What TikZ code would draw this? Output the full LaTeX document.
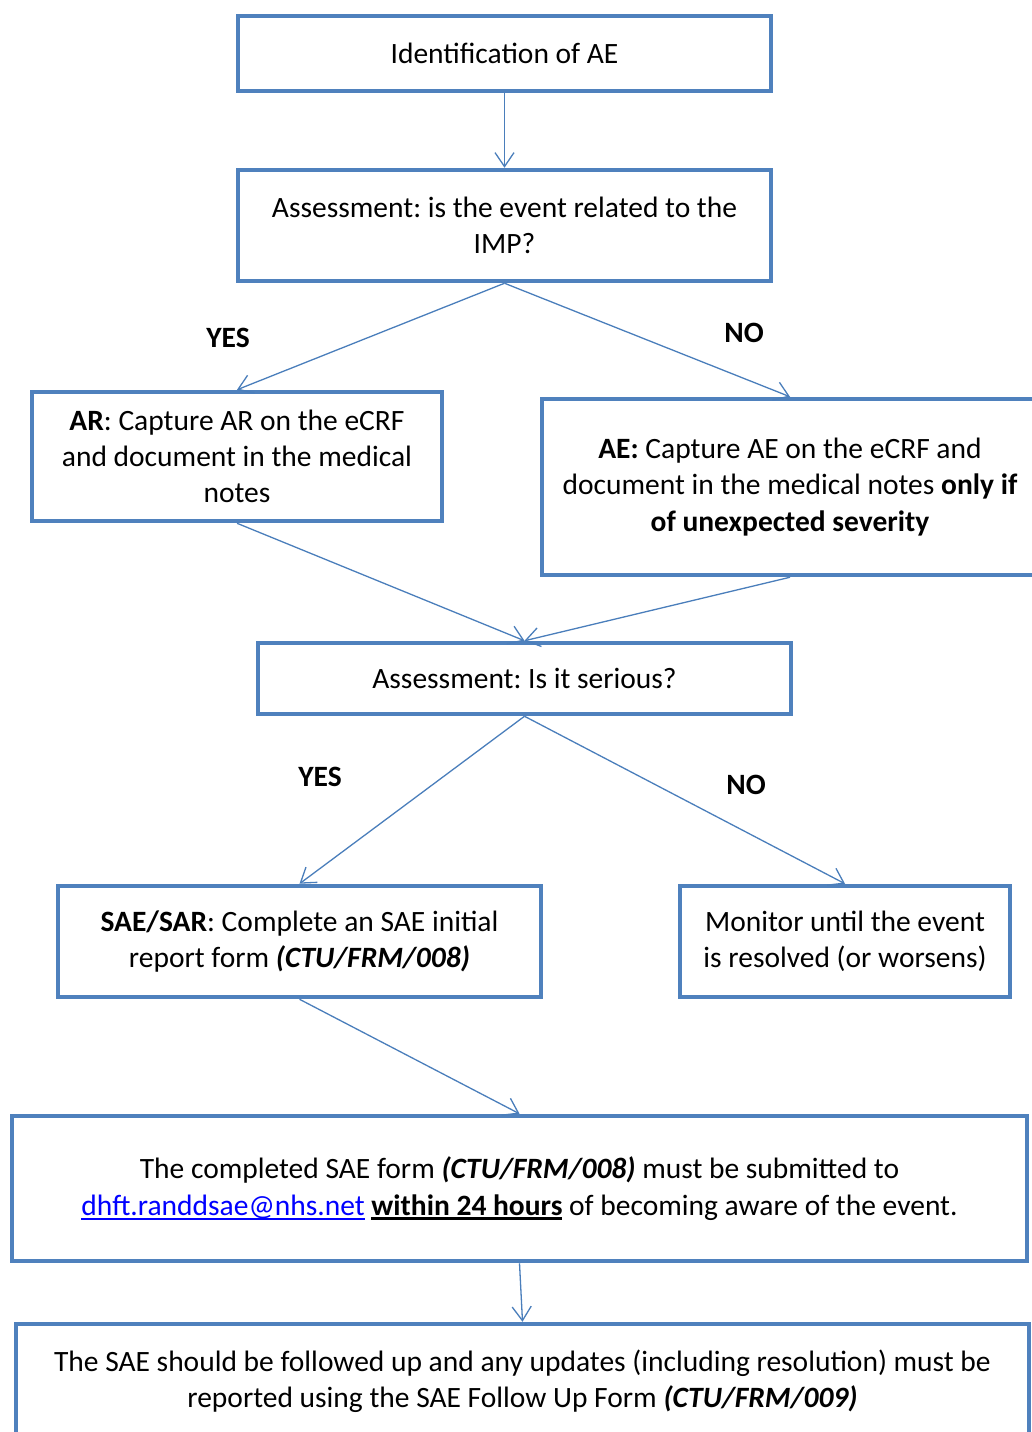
\documentclass[tikz,border=0pt]{standalone}
\usepackage{fontspec}
\setmainfont{Carlito}
\usetikzlibrary{arrows.meta}
\definecolor{bord}{HTML}{4F81BD}
\definecolor{arr}{HTML}{4A7EBB}
\definecolor{linkblue}{HTML}{0000FF}
\newcommand\myul[2][1.5pt]{\setbox0=\hbox{#2}\rlap{\rule[-4.5pt]{\wd0}{#1}}\box0\relax}
\frenchspacing
\begin{document}
\begin{tikzpicture}[x=1pt,y=-1pt,
  box/.style={draw=bord, line width=4.5pt, rectangle, align=center, inner sep=0pt,
    font=\fontsize{29.5}{36.2}\selectfont},
  conn/.style={draw=arr, line width=1.3pt, -{Straight Barb[length=14pt,width=19pt,line width=1.3pt]}},
  lab/.style={font=\fontsize{29.5}{36.2}\selectfont\bfseries, inner sep=0pt}]
\useasboundingbox (0,0) rectangle (1032,1432);

\node[box, minimum width=533pt, minimum height=75pt] (id) at (504.5,53.5) {Identification of AE};
\node[box, minimum width=533pt, minimum height=111pt] (imp) at (504.5,225.5)
  {Assessment: is the event related to the\\IMP?};
\node[box, minimum width=410pt, minimum height=129pt] (ar) at (237,456.5)
  {\textbf{AR}: Capture AR on the eCRF\\and document in the medical\\notes};
\node[box, minimum width=496pt, minimum height=176pt] (ae) at (790,487)
  {\textbf{AE:} Capture AE on the eCRF and\\document in the medical notes \textbf{only if}\\\textbf{of unexpected severity}};
\node[box, minimum width=533pt, minimum height=71pt] (ser) at (524.5,678.5) {Assessment: Is it serious?};
\node[box, minimum width=483pt, minimum height=111pt] (sae) at (299.5,941.5)
  {\textbf{SAE/SAR}: Complete an SAE initial\\report form \textbf{\textit{(CTU/FRM/008)}}};
\node[box, minimum width=330pt, minimum height=111pt] (mon) at (845,941.5)
  {Monitor until the event\\is resolved (or worsens)};
\node[box, minimum width=1015pt, minimum height=145pt] (comp) at (519.5,1188.5)
  {The completed SAE form \textbf{\textit{(CTU/FRM/008)}} must be submitted to\\
   {\color{linkblue}\myul{dhft.randdsae@nhs.net}} \myul[2.2pt]{\textbf{within 24 hours}} of becoming aware of the event.};
\node[box, minimum width=1013pt, minimum height=114pt] (fu) at (522.5,1381)
  {The SAE should be followed up and any updates (including resolution) must be\\
   reported using the SAE Follow Up Form \textbf{\textit{(CTU/FRM/009)}}};

\node[lab] (yes1) at (228,338) {YES};
\node[lab] (no1) at (744,333) {NO};
\node[lab] (yes2) at (320,777) {YES};
\node[lab] (no2) at (746,785) {NO};

\draw[conn] (id.south) -- (imp.north);
\draw[conn] (imp.south) -- (ar.north);
\draw[conn] (imp.south) -- (ae.north);
\draw[conn] (ar.south) -- (ser.north);
\draw[conn] (ae.south) -- (ser.north);
\draw[conn] (ser.south) -- (sae.north);
\draw[conn] (ser.south) -- (mon.north);
\draw[conn] (sae.south) -- (comp.north);
\draw[conn] (comp.south) -- (fu.north);
\end{tikzpicture}
\end{document}
